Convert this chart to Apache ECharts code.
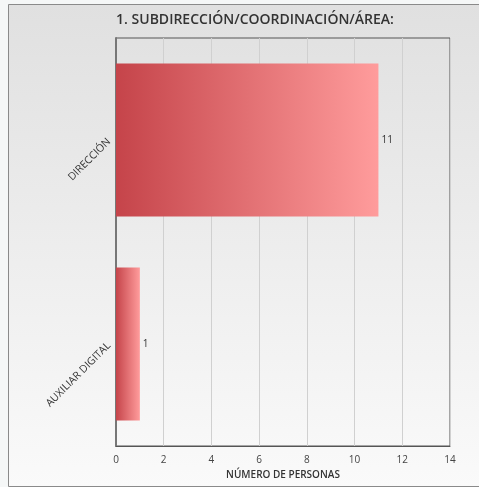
<!DOCTYPE html>
<html><head><meta charset="utf-8">
<script src="https://cdn.jsdelivr.net/npm/echarts@6/dist/echarts.min.js"></script>
<style>html,body{margin:0;padding:0;background:#f5f7f7;}#c{width:479px;height:487px;}</style>
</head><body><div id="c"></div>
<script>
var titleText = '1. SUBDIRECCIÓN/COORDINACIÓN/ÁREA:';
var categories = ['DIRECCIÓN', 'AUXILIAR DIGITAL'];
var values = [11, 1];
var axisName = 'NÚMERO DE PERSONAS';
var xMin = 0, xMax = 14, xInterval = 2;

var chart = echarts.init(document.getElementById('c'), null, {renderer: 'canvas'});
var font = "'Open Sans', 'Noto Sans', sans-serif";
chart.setOption({
  animation: false,
  backgroundColor: 'transparent',
  graphic: [{
    type: 'rect', z: -10, silent: true,
    shape: {x: 8.5, y: 4.5, width: 480, height: 482},
    style: {
      fill: new echarts.graphic.LinearGradient(0, 0, 0, 1, [
        {offset: 0, color: '#e0e0e0'}, {offset: 1, color: '#fafafa'}
      ]),
      stroke: '#8a8a8a', lineWidth: 1
    }
  }],
  title: {
    text: titleText, left: 250, top: 8, textAlign: 'center',
    textStyle: {fontFamily: font, fontSize: 14, fontWeight: 600, color: '#333'}
  },
  grid: {left: 116, top: 38, right: 29, bottom: 41, show: true, borderColor: '#555', borderWidth: 1, backgroundColor: 'transparent', containLabel: false},
  xAxis: {
    type: 'value', min: xMin, max: xMax, interval: xInterval,
    name: axisName, nameLocation: 'middle', nameGap: 24,
    nameTextStyle: {fontFamily: font, fontSize: 10, fontWeight: 600, color: '#333'},
    axisLine: {show: true, lineStyle: {color: '#555'}},
    axisTick: {show: false},
    axisLabel: {fontFamily: font, fontSize: 10, color: '#444', margin: 9},
    splitLine: {show: true, lineStyle: {color: '#d0d0d0', width: 1}}
  },
  yAxis: {
    type: 'category', data: categories, inverse: true,
    axisLine: {show: true, lineStyle: {color: '#777', width: 2}},
    axisTick: {show: false},
    axisLabel: {fontFamily: font, fontSize: 10.5, color: '#333', rotate: 45, margin: 7}
  },
  series: [{
    type: 'bar', data: values, barCategoryGap: '25%',
    itemStyle: {
      color: new echarts.graphic.LinearGradient(0, 0, 1, 0, [
        {offset: 0, color: '#c5444a'}, {offset: 1, color: '#ff9c9c'}
      ])
    },
    label: {show: true, position: 'right', distance: 3, fontFamily: font, fontSize: 10, color: '#333'}
  }]
});
</script></body></html>
